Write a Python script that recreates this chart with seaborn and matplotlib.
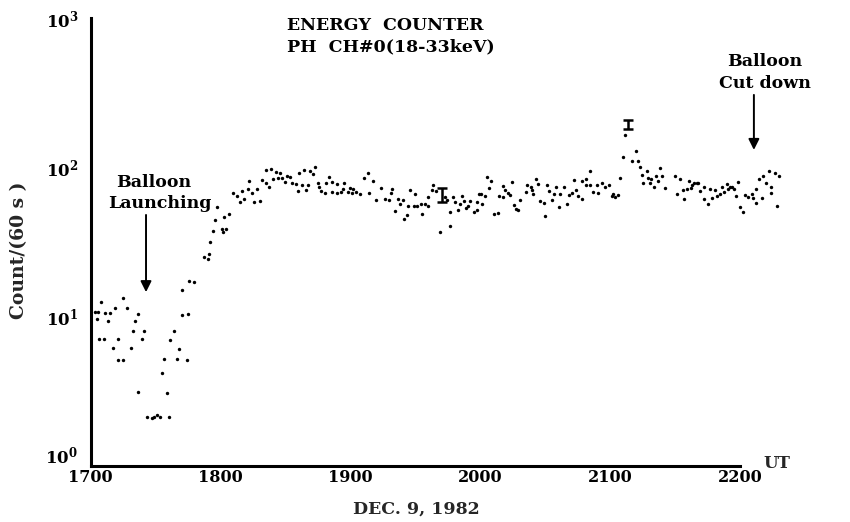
import numpy as np
import pandas as pd
import matplotlib
matplotlib.use("Agg")
import matplotlib.pyplot as plt
import matplotlib.transforms as mtransforms
import seaborn as sns
from matplotlib.ticker import FixedLocator, NullFormatter

sns.set_theme(style="white")
plt.rcParams["font.family"] = ["DejaVu Serif"]
plt.rcParams["font.weight"] = "bold"
plt.rcParams["mathtext.fontset"] = "dejavuserif"

# minutes after 17:00 UT and counts per 60 s
minutes = [
    2.0, 2.8, 3.5, 3.8, 4.6, 6.1, 6.6, 8.1, 8.9, 10.2, 11.2, 12.7, 12.8, 15.0, 15.1,
    16.6, 18.5, 19.4, 20.3, 21.7, 22.0, 23.6, 24.6, 26.1, 28.2, 29.4, 30.5, 32.0,
    32.8, 33.7, 35.1, 36.3, 36.6, 38.6, 39.7, 40.7, 42.0, 42.3, 44.6, 45.1, 45.4,
    47.7, 52.3, 54.3, 54.7, 55.1, 56.6, 57.4, 58.2, 60.5, 61.3, 61.7, 62.5, 64.0,
    65.6, 67.5, 69.0, 69.8, 71.0, 72.5, 73.3,
    74.7, 75.4, 76.8, 78.4, 79.0, 80.9, 81.0, 82.2, 83.3, 84.1, 85.5, 86.5, 87.3,
    88.5, 89.8, 90.8, 91.9, 92.9, 94.7, 95.6, 96.4, 97.5, 98.4, 99.5, 100.5, 101.5,
    102.7, 103.8, 104.9, 105.6, 106.5, 108.2, 108.6, 110.2, 111.3, 111.6, 113.7,
    113.8, 115.6, 116.6, 117.2, 119.0, 119.7, 120.6, 121.3, 122.6, 124.4, 126.4,
    128.3, 128.7, 130.4, 131.9, 134.3, 136.1, 138.0, 138.6, 139.3, 140.7, 141.8,
    143.0, 144.4, 144.6, 146.1, 146.7, 147.7, 149.4, 149.8,
    150.9, 152.5, 153.2, 154.3, 155.7, 156.0, 157.5, 158.3, 159.7, 161.4, 163.5,
    164.5, 165.9, 166.1, 167.5, 168.4, 169.6, 170.6, 171.5, 172.6, 173.4, 174.5,
    175.2, 177.2, 178.3, 178.6, 179.5, 180.3, 180.9, 182.2, 183.0, 184.0, 185.1,
    186.5, 188.3, 188.8, 190.3, 190.6, 191.5, 192.7, 193.7, 194.5, 195.4, 196.5,
    197.3, 198.3, 201.2, 201.7, 203.3, 203.9, 204.5, 205.7, 206.8, 207.4, 209.3,
    210.0, 211.0, 211.9, 213.1, 214.2, 215.1, 216.5, 217.0, 218.7, 219.9, 220.8,
    222.4, 223.1, 224.2, 225.3,
    226.8, 227.1, 228.8, 229.0, 230.5, 230.7, 232.2, 233.9, 234.5, 236.4, 237.7,
    239.5, 240.7, 241.2, 242.4, 243.8, 244.7, 245.8, 247.0, 250.2, 251.8, 252.9,
    253.8, 254.7, 255.3, 257.0, 257.3, 258.3, 258.9, 260.1, 261.2, 262.2, 263.2,
    264.1, 265.2, 270.1, 270.7, 272.1, 273.5, 274.1, 275.5, 276.4, 277.3, 277.9,
    278.9, 280.0, 280.7, 281.6, 283.2, 283.3, 285.3, 286.3, 287.0, 288.3, 289.4,
    290.7, 291.5, 292.6, 293.8, 294.3, 295.5, 296.1, 297.3, 298.3, 299.2, 300.0,
    301.2, 302.3, 303.8, 305.4, 306.1, 307.4, 307.6, 308.9, 310.0, 310.7, 312.0,
    313.5, 314.2, 314.4, 316.1, 316.9, 318.1,
]
counts = [
    10.7, 9.7, 10.7, 7.1, 12.5, 7.1, 10.6, 9.4, 10.6, 6.2, 11.5, 5.1, 7.1, 13.4, 5.1,
    11.4, 6.2, 8.0, 9.4, 3.15, 10.4, 7.1, 8.0, 2.14, 2.09, 2.14, 2.18, 2.14,
    4.17, 5.2, 3.1, 2.14, 6.95, 8.0, 5.2, 6.1, 10.2, 15.1, 5.1, 10.4, 17.2,
    17.0, 25.0, 24.3, 26.3, 31.8, 37.6, 44.3, 53.9, 38.6, 36.7, 46.2, 38.6, 48.6,
    67.8, 63.8, 58.7, 69.5, 61.8, 71.3, 81,
    67.1, 58.7, 72.1, 59.3, 82.3, 79.1, 96, 74.3, 98, 84.1, 93, 85.4, 92.2,
    85.4, 80.3, 87.5, 86.2, 79.1, 77.8, 69.5, 92.2, 75.9, 96, 70.6, 76.6, 94.5,
    90.8, 101, 79.1, 74.3, 69.5, 67.8, 78.5, 86.2, 68.6, 80.3, 77,
    67.8, 68.6, 71.3, 78.5, 68.1, 72.7, 67.8, 72.1, 68.6, 66.6, 85.4,
    92.2, 67.1, 81, 60.3, 72.8, 61.1, 60.3, 67.1, 72.1, 50.9, 61.5,
    56.4, 60.3, 45, 48.1, 55.5, 70.3, 54.7, 66,
    54.7, 56.7, 48.4, 57.2, 63.3, 55.5, 70.1, 76.6, 69.2, 37, 62.9,
    60.3, 50.6, 40.6, 63.1, 58.3, 51.4, 56.4, 63.8, 59.8, 53.3, 54.9,
    59.4, 50.3, 51.7, 59, 66.6, 66.2, 56.9, 64.4, 86.2, 72.8, 80.7,
    48.6, 49.7, 64.4, 63.1, 75.1, 71, 67.1, 65.7, 79.8, 55.7, 52.9,
    51.4, 60.3, 68.3, 75.9, 73.5, 70.3, 66.6, 83.2, 77, 59.6, 57.5,
    47, 76.6, 69.2, 60.6, 66.6, 73.5, 54, 66.6, 73.5, 56.4, 65,
    67.1, 81.9, 70.3, 64.4,
    81, 61.8, 84.1, 75.9, 94.4, 75.9, 68.6, 75.9, 67.8, 78.5, 74.3,
    76.4, 63.8, 66.6, 63.5, 65.7, 84.3, 117.8, 165, 111, 129, 111,
    101, 89.3, 78.5, 94.5, 85, 78.5, 84.1, 74.3, 87.5, 80.7, 99.5,
    87.5, 72.7, 87.1, 66.6, 84.1, 70.1, 60.9, 72.1, 81.4, 72.8, 76.6,
    78.2, 78.5, 78.5, 69.5, 61.8, 73.8, 56.4, 71.3, 62.5, 70.1, 63.8,
    66, 74.3, 68.3, 77, 72.1, 73.5, 73.5, 72.1, 63.8, 79.8, 54,
    49.9, 65.4, 62.9, 66.6, 62.2, 71.3, 58, 83.2, 62.2, 87.5, 78.2,
    94.4, 73.5, 67.8, 91.2, 55, 88,
]

# representative statistical errors
err_minutes = [162.2, 248.4]
err_counts = [65.4, 194.0]
err_low = [58.6, 181.0]
err_high = [72.6, 209.0]

x_ticks = [1700, 1800, 1900, 2000, 2100, 2200]
y_ticks = [1, 10, 100, 1000]
y_tick_labels = [r"$\mathbf{10^{0}}$", r"$\mathbf{10^{1}}$", r"$\mathbf{10^{2}}$", r"$\mathbf{10^{3}}$"]


def to_ut(m):
    return 1700 + np.asarray(m, dtype=float) * 100.0 / 60.0


df = pd.DataFrame({"UT": to_ut(minutes), "count": counts})

W, H = 850, 522
fig = plt.figure(figsize=(W / 100, H / 100), dpi=100)
ax = fig.add_axes([90.7 / W, 1 - 466 / H, (740 - 90.7) / W, (466 - 18) / H])
ax.set_facecolor("white")

sns.scatterplot(data=df, x="UT", y="count", ax=ax, s=6, color="black",
                linewidth=0, clip_on=False, legend=False)

ec = np.array(err_counts)
ax.errorbar(to_ut(err_minutes), ec, yerr=[ec - np.array(err_low), np.array(err_high) - ec],
            fmt="none", ecolor="black", elinewidth=1.8, capsize=3.5, capthick=1.8,
            clip_on=False)

ax.set_yscale("log")
ax.set_ylim(1, 1000)
ax.set_xlim(1700, 2200)

for s in ("top", "right"):
    ax.spines[s].set_visible(False)
for s in ("left", "bottom"):
    ax.spines[s].set_linewidth(2.2)
    ax.spines[s].set_color("black")

ax.xaxis.set_major_locator(FixedLocator(x_ticks))
ax.xaxis.set_minor_locator(FixedLocator([1700 + i * 100 / 6 for i in range(31)]))
ax.xaxis.set_minor_formatter(NullFormatter())
ax.set_xticklabels([str(t) for t in x_ticks])
ax.yaxis.set_major_locator(FixedLocator(y_ticks))
ax.yaxis.set_minor_locator(FixedLocator([]))
ax.set_yticklabels(y_tick_labels)

ax.tick_params(axis="x", which="major", direction="in", length=7, width=1.3,
               labelsize=11.5, pad=2, colors="black")
ax.tick_params(axis="x", which="minor", direction="in", length=5, width=1.1)
ax.tick_params(axis="y", which="major", direction="in", length=8, width=1.3,
               labelsize=12, pad=9, colors="black")
for lab in ax.get_xticklabels() + ax.get_yticklabels():
    lab.set_fontweight("bold")

# the lowest decade label is lifted clear of the time labels
low_lab = ax.get_yticklabels()[0]
low_lab.set_transform(low_lab.get_transform() +
                      mtransforms.ScaledTranslation(0, 12 / 100, fig.dpi_scale_trans))

ax.set_xlabel("")
ax.set_ylabel("")


def fx(px):
    return px / W


def fy(py):
    return 1 - py / H


txt = dict(fontsize=12.5, fontweight="bold", color="black")
fig.text(fx(287), fy(25), "ENERGY  COUNTER", ha="left", va="center", **txt)
fig.text(fx(287), fy(47), "PH  CH#0(18-33keV)", ha="left", va="center", **txt)

fig.text(fx(154), fy(182), "Balloon", ha="center", va="center", **txt)
fig.text(fx(160), fy(203), "Launching", ha="center", va="center", **txt)
fig.text(fx(765), fy(62), "Balloon", ha="center", va="center", **txt)
fig.text(fx(765), fy(84), "Cut down", ha="center", va="center", **txt)

arrow = dict(arrowstyle="-|>", color="black", lw=1.4, mutation_scale=16,
             shrinkA=0, shrinkB=0)
ax.annotate("", xy=(1742.6, 14.6), xytext=(1742.6, 48.0), arrowprops=arrow,
            annotation_clip=False)
ax.annotate("", xy=(2210.7, 130.8), xytext=(2210.7, 305.5), arrowprops=arrow,
            annotation_clip=False)

fig.text(fx(19), fy(250), "Count/(60 s )", rotation=90, ha="center", va="center",
         fontsize=13.5, fontweight="bold")
fig.text(fx(416), fy(509), "DEC. 9, 1982", ha="center", va="center",
         fontsize=12.5, fontweight="bold")
fig.text(fx(777), fy(464), "UT", ha="center", va="center", fontsize=12,
         fontweight="bold")

fig.savefig("out.png", dpi=100, facecolor="white")
